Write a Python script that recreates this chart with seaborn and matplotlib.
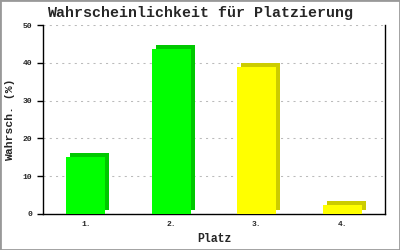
import matplotlib
matplotlib.use("Agg")
import matplotlib.pyplot as plt
import matplotlib.transforms as mtransforms
from matplotlib.patches import Rectangle
import seaborn as sns
import pandas as pd

places = ["1.", "2.", "3.", "4."]
values = [15.0, 43.6, 39.0, 2.4]
front_colors = ["#00FF00", "#00FF00", "#FFFF00", "#FFFF00"]
side_colors = ["#00C800", "#00C800", "#CCCC00", "#CCCC00"]
title = "Wahrscheinlichkeit für Platzierung"
xlabel = "Platz"
ylabel = "Wahrsch. (%)"
yticks = [0, 10, 20, 30, 40, 50]

sns.set_theme(style="white")
mono = ["Liberation Mono", "DejaVu Sans Mono"]
plt.rcParams["font.family"] = mono

df = pd.DataFrame({"place": places, "value": values})

fig = plt.figure(figsize=(4, 2.5), dpi=100)
ax = fig.add_axes([43/400, 36/250, 342/400, 189/250])

# back (depth) bars, shifted up-right by 4 px
sns.barplot(data=df, x="place", y="value", hue="place", palette=side_colors,
            legend=False, width=0.46, ax=ax, saturation=1, linewidth=0, zorder=2)
n_back = len(ax.patches)
shift = mtransforms.ScaledTranslation(4/100, 4/100, fig.dpi_scale_trans)
for p in ax.patches[:n_back]:
    p.set_transform(ax.transData + shift)
    p.set_clip_on(False)

# front bars
sns.barplot(data=df, x="place", y="value", hue="place", palette=front_colors,
            legend=False, width=0.46, ax=ax, saturation=1, linewidth=0, zorder=3)

ax.set_xlim(-0.5, 3.5)
ax.set_ylim(0, 50)
ax.set_yticks(yticks)
ax.set_yticklabels([str(t) for t in yticks], fontsize=5.8, fontweight="bold")
ax.set_xticks(range(len(places)))
ax.set_xticklabels(places, fontsize=5.8, fontweight="bold")

ax.yaxis.grid(True, color="#bbbbbb", linewidth=0.75, linestyle=(0, (2, 4)), zorder=0)
ax.xaxis.grid(False)
ax.set_axisbelow(True)

for s in ["left", "right", "bottom"]:
    ax.spines[s].set_visible(True)
    ax.spines[s].set_color("black")
    ax.spines[s].set_linewidth(1.0)
ax.spines["top"].set_visible(False)

ax.tick_params(axis="y", which="both", left=True, length=4, width=1, color="black", pad=4)
ax.tick_params(axis="x", which="both", bottom=False, length=0, pad=5)

ax.set_xlabel(xlabel, fontsize=8.3, fontweight="bold", labelpad=4)
ax.set_ylabel(ylabel, fontsize=8.2, fontweight="bold", labelpad=5)
fig.text(0.5, 1 - 13/250, title, ha="center", va="center", fontsize=10.8,
         fontweight="bold", family=mono)

fig.patches.append(Rectangle((0, 0), 1, 1, transform=fig.transFigure, fill=False,
                             edgecolor="#999999", linewidth=2, zorder=10))

fig.savefig("out.png", dpi=100, facecolor="white")
